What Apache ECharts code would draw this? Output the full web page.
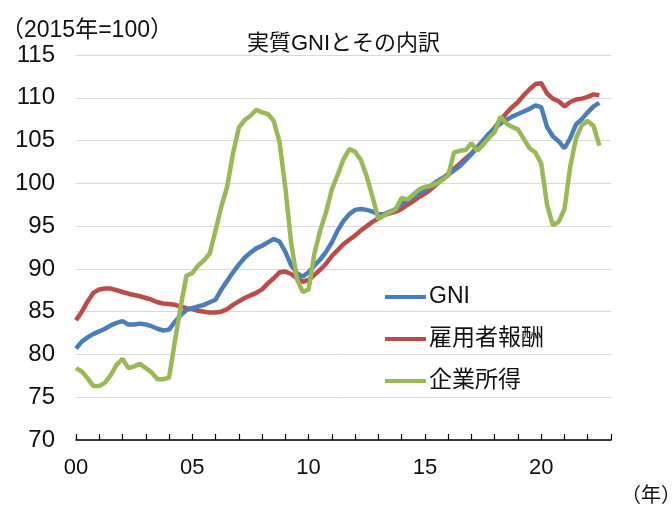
<!DOCTYPE html>
<html>
<head>
<meta charset="utf-8">
<script src="https://cdn.jsdelivr.net/npm/echarts@6/dist/echarts.min.js"></script>
<style>
  html, body { margin: 0; padding: 0; background: #fff; }
  #chart { width: 672px; height: 505px; }
</style>
</head>
<body>
<div id="chart"></div>
<script>
// quarterly from 2000Q1, index / 4 = years since 2000
var gni = [
  80.7, 81.5, 82.0, 82.4, 82.7, 83.0, 83.4, 83.7,
  83.9, 83.5, 83.5, 83.6, 83.5, 83.3, 83.0, 82.8,
  82.9, 83.8, 84.6, 85.2, 85.4, 85.6, 85.8, 86.1,
  86.4, 87.6, 88.6, 89.6, 90.5, 91.3, 91.9, 92.4,
  92.7, 93.1, 93.5, 93.2, 92.0, 90.4, 89.5, 89.1,
  89.6, 90.4, 91.1, 92.0, 93.1, 94.5, 95.6, 96.4,
  96.9, 97.0, 96.9, 96.7, 96.4, 96.4, 96.7, 97.0,
  97.6, 98.0, 98.4, 98.8, 99.2, 99.7, 100.2, 100.6,
  101.0, 101.5, 102.0, 102.7, 103.4, 104.2, 105.0, 105.8,
  106.4, 107.0, 107.4, 107.8, 108.1, 108.4, 108.7, 109.1,
  108.9, 106.6, 105.5, 104.9, 104.1, 105.3, 106.9, 107.5,
  108.3, 109.0, 109.4
];
var compensation = [
  84.0, 85.0, 86.2, 87.2, 87.6, 87.7, 87.7, 87.5,
  87.3, 87.1, 86.95, 86.8, 86.6, 86.4, 86.1, 85.95,
  85.9, 85.8, 85.6, 85.4, 85.3, 85.1, 85.0, 84.9,
  84.9, 85.0, 85.3, 85.8, 86.2, 86.6, 86.9, 87.2,
  87.6, 88.3, 88.9, 89.6, 89.7, 89.4, 88.9, 88.5,
  88.7, 89.3, 89.9, 90.6, 91.5, 92.2, 92.9, 93.4,
  93.9, 94.5, 95.0, 95.5, 95.9, 96.3, 96.5, 96.7,
  97.0, 97.5, 97.9, 98.4, 98.8, 99.3, 99.9, 100.5,
  101.1, 101.7, 102.3, 102.9, 103.5, 104.2, 104.9, 105.7,
  106.5, 107.4, 108.2, 108.9, 109.5, 110.3, 111.0, 111.6,
  111.7, 110.5, 109.9, 109.6, 109.0, 109.5, 109.8, 109.9,
  110.1, 110.4, 110.3
];
var corporate = [
  78.4, 78.0, 77.2, 76.3, 76.3, 76.7, 77.6, 78.8,
  79.5, 78.4, 78.6, 78.9, 78.4, 77.9, 77.1, 77.1,
  77.3, 81.5, 85.6, 89.2, 89.5, 90.4, 91.0, 91.8,
  94.5, 97.3, 99.6, 103.5, 106.5, 107.4, 107.9, 108.6,
  108.3, 108.1, 107.3, 104.8, 99.5, 93.0, 88.8, 87.3,
  87.6, 91.8, 94.5, 96.6, 99.3, 101.0, 102.8, 104.0,
  103.7, 102.7, 100.8, 98.4, 95.8, 96.3, 96.6, 97.0,
  98.3, 98.1, 98.7, 99.3, 99.6, 99.7, 100.0, 100.4,
  100.9, 103.6, 103.8, 103.9, 104.7, 103.8, 104.5, 105.3,
  106.0, 107.8, 107.0, 106.6, 106.3, 105.2, 104.1, 103.6,
  102.3, 97.5, 95.1, 95.5, 97.0, 102.0, 105.3, 106.8,
  107.3, 106.7, 104.4
];
var seriesNames = ['GNI', '雇用者報酬', '企業所得'];
var seriesColors = ['#4a7ebb', '#be4b48', '#98b954'];
var yTicks = [70, 75, 80, 85, 90, 95, 100, 105, 110, 115];
var xLabelYears = [0, 5, 10, 15, 20];

var FONT = '"Liberation Sans", "Noto Sans CJK JP", sans-serif';

function toPoints(arr) {
  return arr.map(function (v, i) { return [i / 4, v]; });
}

var chart = echarts.init(document.getElementById('chart'));
chart.setOption({
  animation: false,
  textStyle: { fontFamily: FONT },
  title: [
    { text: '実質GNIとその内訳', left: 242, top: 28,
      textStyle: { fontSize: 22, fontWeight: 'normal', color: '#111', fontFamily: FONT } },
    { text: '（2015年=100）', left: -4, top: 14,
      textStyle: { fontSize: 23, fontWeight: 'normal', color: '#111', fontFamily: FONT } },
    { text: '（年）', left: 616, top: 481,
      textStyle: { fontSize: 20, fontWeight: 'normal', color: '#111', fontFamily: FONT } }
  ],
  legend: {
    orient: 'vertical',
    left: 380,
    top: 280,
    itemWidth: 41,
    itemHeight: 4,
    itemGap: 18,
    icon: 'rect',
    data: seriesNames,
    textStyle: { fontSize: 23, color: '#111', lineHeight: 24, padding: [0, 0, 0, -2], fontFamily: FONT }
  },
  grid: { left: 76, right: 61, top: 55, bottom: 65 },
  xAxis: {
    type: 'value',
    min: 0,
    max: 23,
    interval: 1,
    axisLine: { lineStyle: { color: '#000', width: 1.5 } },
    axisTick: { inside: true, length: 6, lineStyle: { color: '#000', width: 1.2 } },
    axisLabel: {
      fontSize: 22, color: '#111', margin: 17, fontFamily: FONT,
      formatter: function (v) {
        return xLabelYears.indexOf(v) >= 0 ? (v < 10 ? '0' + v : '' + v) : '';
      }
    },
    splitLine: { show: false }
  },
  yAxis: {
    type: 'value',
    min: yTicks[0],
    max: yTicks[yTicks.length - 1],
    interval: 5,
    axisLine: { show: false },
    axisTick: { show: false },
    axisLabel: { fontSize: 24, color: '#111', margin: 21, fontFamily: FONT },
    splitLine: { lineStyle: { color: '#d9d9d9', width: 1 } }
  },
  series: [
    { name: seriesNames[0], type: 'line', data: toPoints(gni), showSymbol: false,
      color: seriesColors[0], lineStyle: { width: 4.5, color: seriesColors[0] }, z: 3 },
    { name: seriesNames[1], type: 'line', data: toPoints(compensation), showSymbol: false,
      color: seriesColors[1], lineStyle: { width: 4.5, color: seriesColors[1] }, z: 2 },
    { name: seriesNames[2], type: 'line', data: toPoints(corporate), showSymbol: false,
      color: seriesColors[2], lineStyle: { width: 4.5, color: seriesColors[2] }, z: 4 }
  ]
});
</script>
</body>
</html>
